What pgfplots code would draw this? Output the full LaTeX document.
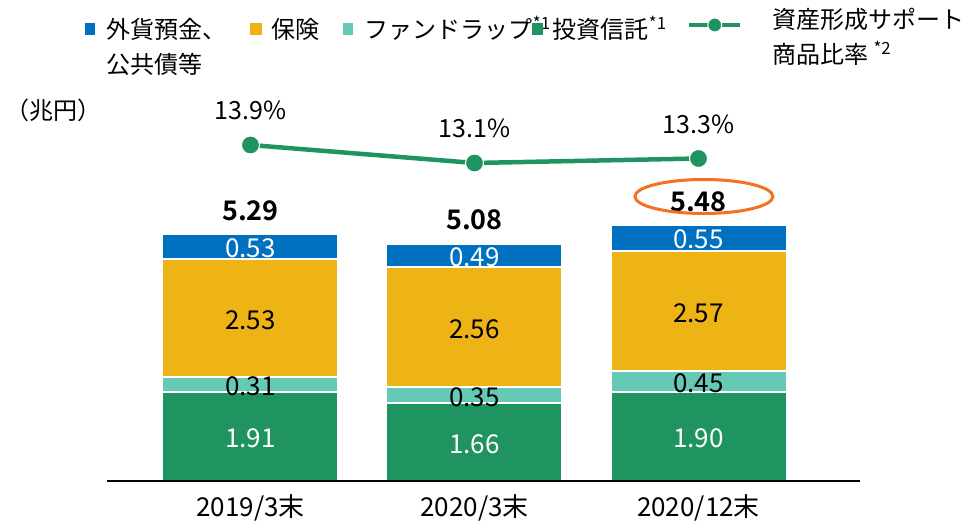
\documentclass[border=0pt]{standalone}
\usepackage{fontspec}
\setmainfont{Noto Sans CJK JP}[BoldFont={Noto Sans CJK JP Bold}]
\usepackage{pgfplots}
\usepackage{pgfplotstable}
\pgfplotsset{compat=1.18}
\definecolor{cBlue}{HTML}{0070C0}
\definecolor{cGold}{HTML}{EEB416}
\definecolor{cTeal}{HTML}{66C9B6}
\definecolor{cGreen}{HTML}{1F9461}
\definecolor{cOrange}{HTML}{F5701F}

\pgfplotstableread{
x toshin fund hoken gaika total
0 1.91 0.31 2.53 0.53 5.29
1 1.66 0.35 2.56 0.49 5.08
2 1.90 0.45 2.57 0.55 5.48
}\bars

\pgfplotstableread{
x ratio lab
0 13.9 13.9\%
1 13.1 13.1\%
2 13.3 13.3\%
}\ratio

\pgfplotstableread{
x y lab
0 0.955 1.91
1 0.830 1.66
2 0.950 1.90
0 5.015 0.53
1 4.815 0.49
2 5.205 0.55
}\whitelabs

\pgfplotstableread{
x y lab
0 2.065 0.31
1 1.835 0.35
2 2.125 0.45
0 3.485 2.53
1 3.290 2.56
2 3.635 2.57
}\blacklabs

\begin{document}
\begin{tikzpicture}
\useasboundingbox (0pt,0pt) rectangle (970pt,-529pt);
\pgfplotsset{base/.style={at={(107pt,-481pt)}, anchor=south west, scale only axis,
  width=753pt, height=381pt, xmin=-0.6406, xmax=2.7210, clip=false}}

% bars
\begin{axis}[base, ymin=0, ymax=8.141, ybar stacked, bar width=176pt, axis on top,
  axis x line=bottom, axis y line=none, x axis line style={-, line width=1.8pt, black},
  xtick={0,1,2}, xticklabels={2019/3末,2020/3末,2020/12末}, ytick=\empty,
  major tick length=0pt,
  xticklabel style={anchor=base, yshift=-35pt, font=\fontsize{26}{30}\selectfont},
  legend style={at={(-0.02922,1.2520)}, anchor=north west, draw=none, fill=none,
    inner sep=0pt, outer sep=0pt, legend columns=-1,
    /tikz/every even column/.style={column sep=0pt},
    /tikz/every odd column/.style={column sep=0pt},
    font=\fontsize{24}{35}\selectfont, cells={anchor=base west}, nodes={inner sep=0pt}},
]
\addplot[fill=cGreen, draw=white, line width=2pt, forget plot] table[x=x,y=toshin]{\bars};
\addplot[fill=cTeal, draw=white, line width=2pt, forget plot] table[x=x,y=fund]{\bars};
\addplot[fill=cGold, draw=white, line width=2pt, forget plot] table[x=x,y=hoken]{\bars};
\addplot[fill=cBlue, draw=white, line width=2pt, forget plot,
  nodes near coords, point meta=explicit symbolic,
  nodes near coords style={anchor=center, yshift=36pt, text=black,
    font=\bfseries\fontsize{27}{30}\selectfont}] table[x=x,y=gaika,meta=total]{\bars};

\addlegendimage{legend image code/.code={\path[draw=none,fill=none] (0pt,0pt) rectangle (22pt,1pt); \fill[cBlue,draw=none] (0pt,3.5pt) rectangle (10.5pt,15pt);}}
\addlegendentry{\makebox[143pt][l]{\begin{tabular}[t]{@{}l@{}}外貨預金、\\公共債等\end{tabular}}}
\addlegendimage{legend image code/.code={\path[draw=none,fill=none] (0pt,0pt) rectangle (22pt,1pt); \fill[cGold,draw=none] (0pt,3.5pt) rectangle (12pt,15pt);}}
\addlegendentry{\makebox[71pt][l]{保険}}
\addlegendimage{legend image code/.code={\path[draw=none,fill=none] (0pt,0pt) rectangle (22pt,1pt); \fill[cTeal,draw=none] (0pt,3.5pt) rectangle (10.5pt,15pt);}}
\addlegendentry{\makebox[167pt][l]{ファンドラップ\textsuperscript{*1}}}
\addlegendimage{legend image code/.code={\path[draw=none,fill=none] (0pt,0pt) rectangle (21pt,1pt); \fill[cGreen,draw=none] (0pt,3.5pt) rectangle (11pt,15pt);}}
\addlegendentry{\makebox[134pt][l]{投資信託\textsuperscript{*1}}}
\addlegendimage{legend image code/.code={\path[draw=none,fill=none] (0pt,0pt) rectangle (83pt,1pt);
  \draw[sharp plot, cGreen, fill=none, line width=4.5pt, mark=*, mark size=7pt, mark repeat=2, mark phase=2,
    mark options={fill=cGreen, draw=white, line width=1pt}]
    plot coordinates {(0pt,13.5pt) (25.5pt,13.5pt) (51pt,13.5pt)};}}
\addlegendentry{\raisebox{10pt}{\begin{tabular}[t]{@{}l@{}}資産形成サポート\\商品比率 \textsuperscript{*2}\end{tabular}}}
\end{axis}

% segment labels
\begin{axis}[base, ymin=0, ymax=8.141, hide axis]
\addplot[draw=none, mark=none, nodes near coords, point meta=explicit symbolic,
  nodes near coords style={anchor=center, yshift=-2pt, text=white, font=\fontsize{26}{30}\selectfont}]
  table[x=x,y=y,meta=lab]{\whitelabs};
\addplot[draw=none, mark=none, nodes near coords, point meta=explicit symbolic,
  nodes near coords style={anchor=center, yshift=-2pt, text=black, font=\fontsize{26}{30}\selectfont}]
  table[x=x,y=y,meta=lab]{\blacklabs};
\draw[cOrange, line width=3pt] (axis cs:2.024,6.079) ellipse [x radius=69pt, y radius=17pt];
\end{axis}

% ratio line
\begin{axis}[base, ymin=-1.033, ymax=15.9, hide axis]
\addplot[cGreen, line width=4.5pt, mark=*, mark size=9pt,
  mark options={fill=cGreen, draw=white, line width=1pt},
  nodes near coords, point meta=explicit symbolic,
  nodes near coords style={anchor=center, yshift=34.5pt, text=black, font=\fontsize{25}{30}\selectfont}]
  table[x=x,y=ratio,meta=lab]{\ratio};
\end{axis}

\node[anchor=west, inner sep=0pt, font=\fontsize{24}{28}\selectfont] at (5pt,-110pt) {（兆円）};
\end{tikzpicture}
\end{document}
